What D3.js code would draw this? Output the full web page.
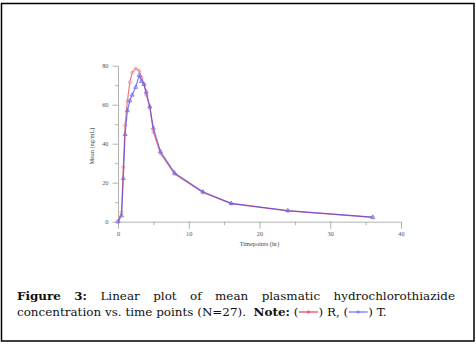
<!DOCTYPE html>
<html>
<head>
<meta charset="utf-8">
<script src="https://cdn.jsdelivr.net/npm/d3@7"></script>
<style>
  html, body { margin: 0; padding: 0; background: #fff; }
  svg { display: block; }
</style>
</head>
<body>
<svg id="fig" width="476" height="345"></svg>
<script>
// Sampling times (hr) and mean plasma concentrations (ng/mL)
const timepoints = [0, 0.5, 0.75, 1, 1.33, 1.67, 2, 2.5, 3, 3.33, 3.67, 4, 4.5, 5, 6, 8, 12, 16, 24, 36];
const seriesR    = [0, 4.8, 28, 49.5, 62, 71.5, 76.5, 78.6, 77.4, 74, 70.5, 65, 58.5, 46, 35, 24.4, 15, 9.3, 5.6, 2.2];
const seriesT    = [0, 3.1, 22.2, 44.8, 57, 62, 65, 69, 75.1, 72, 70.5, 66.5, 59, 48, 36, 25, 15.3, 9.4, 5.7, 2.3];
const xMajorTicks = [0, 10, 20, 30, 40];
const xMinorTicks = [5, 15, 25, 35];
const yMajorTicks = [0, 20, 40, 60, 80];
const yMinorTicks = [10, 30, 50, 70];

const colorR = "#f06068";
const colorT = "#4a3ee0";

const svg = d3.select("#fig");

// figure frame
svg.append("rect")
  .attr("x", 1.5).attr("y", 3.5)
  .attr("width", 472.5).attr("height", 337.5)
  .attr("fill", "#fff").attr("stroke", "#000").attr("stroke-width", 1.5);

const x = d3.scaleLinear().domain([0, 40]).range([118, 401]);
const y = d3.scaleLinear().domain([0, 80]).range([221.7, 65.7]);

const tickFont = "'Liberation Serif', serif";

function styleAxis(g) {
  g.selectAll("path.domain").attr("stroke", "#a0a0a0").attr("stroke-width", 0.8);
  g.selectAll(".tick line").attr("stroke", "#a0a0a0").attr("stroke-width", 0.8);
  g.selectAll(".tick text").attr("fill", "#555").attr("font-family", tickFont).attr("font-size", 6.3);
}

// x axis
svg.append("g")
  .attr("transform", `translate(0,${y(0)})`)
  .call(d3.axisBottom(x).tickValues(xMinorTicks).tickSize(3.5).tickSizeOuter(0).tickFormat(""))
  .call(g => g.select("path.domain").remove())
  .call(styleAxis);
svg.append("g")
  .attr("transform", `translate(0,${y(0)})`)
  .call(d3.axisBottom(x).tickValues(xMajorTicks).tickSize(7).tickSizeOuter(0).tickPadding(3).tickFormat(d3.format("d")))
  .call(styleAxis);

// y axis
svg.append("g")
  .attr("transform", `translate(${x(0)},0)`)
  .call(d3.axisLeft(y).tickValues(yMinorTicks).tickSize(3).tickSizeOuter(0).tickFormat(""))
  .call(g => g.select("path.domain").remove())
  .call(styleAxis);
svg.append("g")
  .attr("transform", `translate(${x(0)},0)`)
  .call(d3.axisLeft(y).tickValues(yMajorTicks).tickSize(5.5).tickSizeOuter(0).tickPadding(4).tickFormat(d3.format("d")))
  .call(styleAxis);

// axis titles
svg.append("text")
  .attr("x", (x(0) + x(40)) / 2).attr("y", 246)
  .attr("text-anchor", "middle")
  .attr("font-family", tickFont).attr("font-size", 6.3).attr("fill", "#444")
  .text("Timepoints (hr)");
svg.append("text")
  .attr("transform", `translate(94,146) rotate(-90)`)
  .attr("text-anchor", "middle")
  .attr("font-family", tickFont).attr("font-size", 6.3).attr("fill", "#444")
  .text("Mean (ng/mL)");

// concentration curves
const line = d3.line().x(d => x(d[0])).y(d => y(d[1]));
const dataR = timepoints.map((t, i) => [t, seriesR[i]]);
const dataT = timepoints.map((t, i) => [t, seriesT[i]]);

svg.append("path").datum(dataR)
  .attr("d", line).attr("fill", "none")
  .attr("stroke", colorR).attr("stroke-width", 1.2).attr("stroke-opacity", 0.85);
svg.selectAll("circle.r").data(dataR).join("circle")
  .attr("class", "r")
  .attr("cx", d => x(d[0])).attr("cy", d => y(d[1])).attr("r", 1.5)
  .attr("fill", "none").attr("stroke", "#f4959c").attr("stroke-width", 0.8);

svg.append("path").datum(dataT)
  .attr("d", line).attr("fill", "none")
  .attr("stroke", colorT).attr("stroke-width", 1.2).attr("stroke-opacity", 0.7);
const tri = d3.symbol().type(d3.symbolTriangle).size(7);
svg.selectAll("path.t").data(dataT).join("path")
  .attr("class", "t")
  .attr("transform", d => `translate(${x(d[0])},${y(d[1])})`)
  .attr("d", tri)
  .attr("fill", "none").attr("stroke", "#7068f0").attr("stroke-width", 0.8);

// caption
const capFamily = "'DejaVu Serif', serif";
const probe = svg.append("text").attr("font-family", capFamily).attr("x", -1000).attr("y", -1000);
function measure(str, bold, size) {
  probe.attr("font-weight", bold ? "bold" : "normal").attr("font-size", size).text(str);
  return probe.node().getComputedTextLength();
}

const keyW = 20;
// second line: [text or legend key, spaces before, bold]
const line2 = [
  ["concentration", 0], ["vs.", 1], ["time", 1], ["points", 1], ["(N=27).", 1],
  ["Note:", 2, true], ["(", 1], [{ key: "R" }, 0], [")", 0], ["R,", 1],
  ["(", 1], [{ key: "T" }, 0], [")", 0], ["T.", 1]
];
function line2Width(size) {
  const sp = measure("a a", false, size) - measure("aa", false, size);
  return d3.sum(line2, ([item, n, bold]) =>
    n * sp + (typeof item === "string" ? measure(item, bold, size) : keyW));
}
// size the caption so the closing line spans its measured width
const capSize = 12 * (370 - 2 * keyW) / (line2Width(12) - 2 * keyW);
const spaceW = measure("a a", false, capSize) - measure("aa", false, capSize);

const line1 = [["Figure", true], ["3:", true], ["Linear"], ["plot"], ["of"], ["mean"], ["plasmatic"], ["hydrochlorothiazide"]];
const left = 17, right = 455;
const widths1 = line1.map(w => measure(w[0], w[1], capSize));
const gap1 = (right - left - d3.sum(widths1)) / (line1.length - 1);
let cx = left;
line1.forEach((w, i) => {
  svg.append("text")
    .attr("x", cx).attr("y", 300)
    .attr("font-family", capFamily).attr("font-size", capSize)
    .attr("font-weight", w[1] ? "bold" : "normal").attr("fill", "#111")
    .text(w[0]);
  cx += widths1[i] + gap1;
});

cx = left;
const base2 = 316;
line2.forEach(([item, sp, bold]) => {
  cx += sp * spaceW;
  if (typeof item === "string") {
    svg.append("text")
      .attr("x", cx).attr("y", base2)
      .attr("font-family", capFamily).attr("font-size", capSize)
      .attr("font-weight", bold ? "bold" : "normal").attr("fill", "#111")
      .text(item);
    cx += measure(item, bold, capSize);
  } else {
    const ly = base2 - 4;
    const col = item.key === "R" ? "#e8404c" : "#7070e8";
    svg.append("line")
      .attr("x1", cx + 0.5).attr("x2", cx + keyW - 0.5).attr("y1", ly).attr("y2", ly)
      .attr("stroke", col).attr("stroke-width", 1.2);
    svg.append("path")
      .attr("transform", `translate(${cx + keyW / 2},${ly})`)
      .attr("d", d3.symbol().type(d3.symbolCross).size(8))
      .attr("fill", col).attr("fill-opacity", 0.6);
    cx += keyW;
  }
});
probe.remove();
</script>
</body>
</html>
